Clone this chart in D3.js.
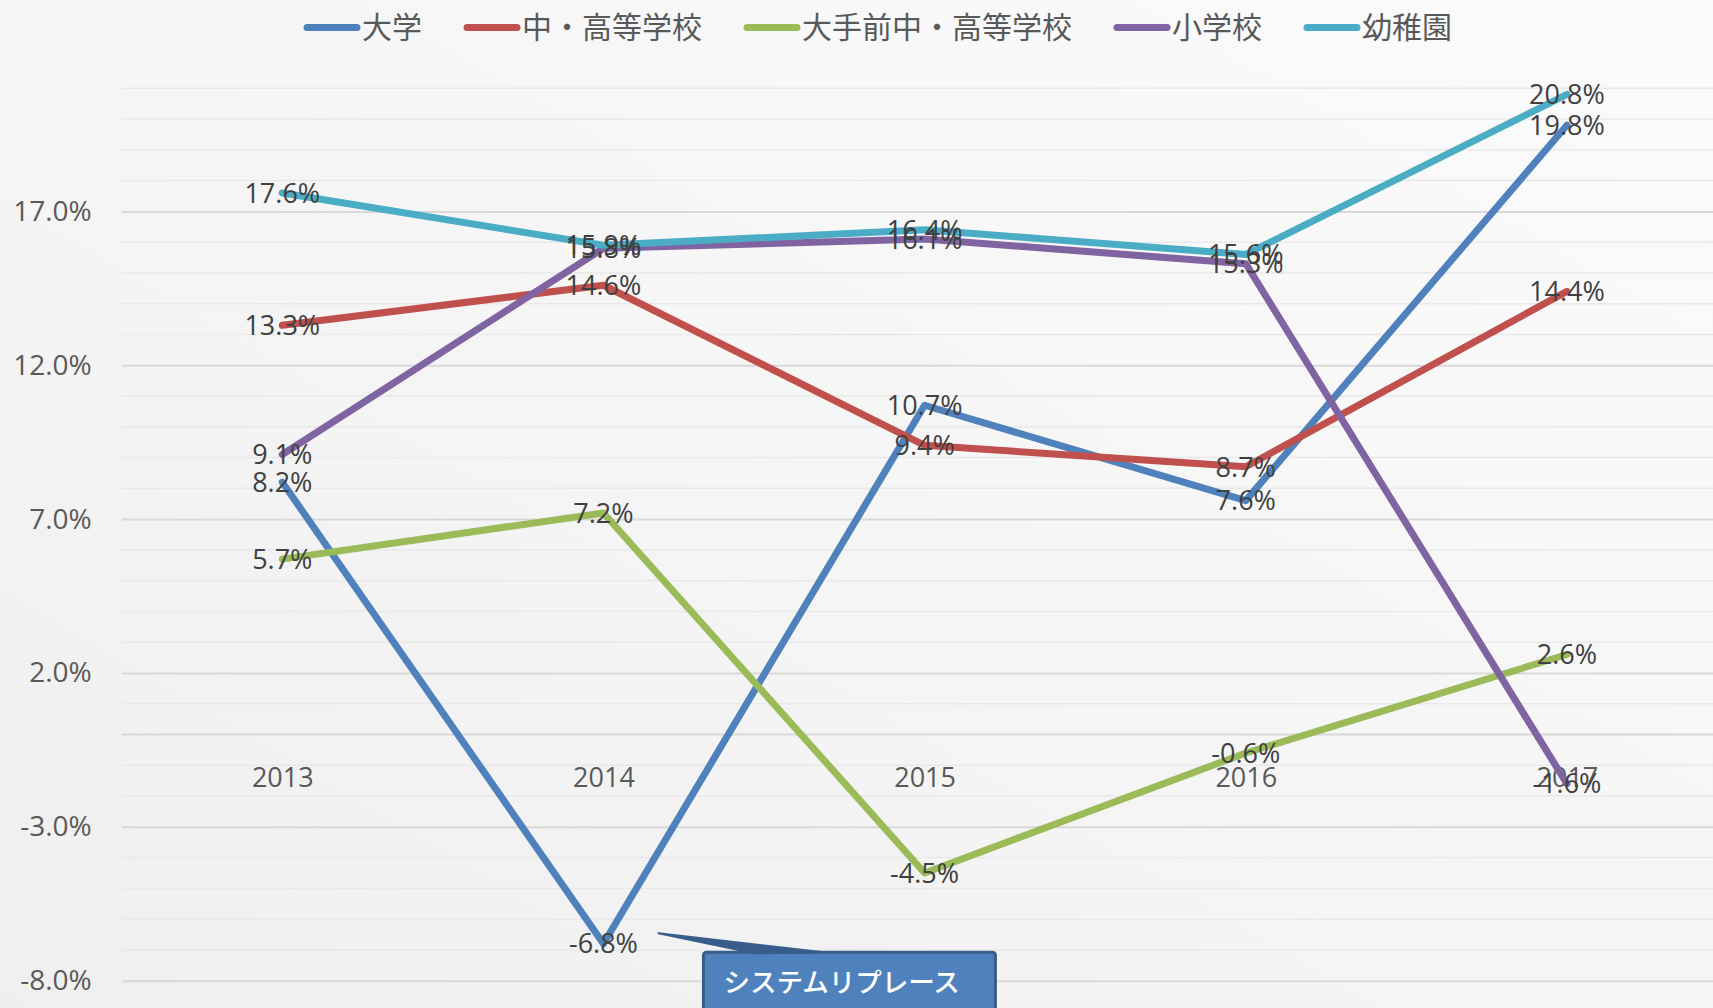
<!DOCTYPE html>
<html>
<head>
<meta charset="utf-8">
<script src="https://cdn.jsdelivr.net/npm/d3@7"></script>
<style>
  body { margin: 0; overflow: hidden; }
  svg { display: block; }
</style>
</head>
<body>
<div id="chart"></div>
<script>
// data
let years = ["2013", "2014", "2015", "2016", "2017"];
let seriesNames = ["大学", "中・高等学校", "大手前中・高等学校", "小学校", "幼稚園"];
let seriesColors = ["#4f81bd", "#c0504d", "#9bbb59", "#8064a2", "#4bacc6"];
let daigaku = [8.2, -6.8, 10.7, 7.6, 19.8];
let chuko = [13.3, 14.6, 9.4, 8.7, 14.4];
let otemae = [5.7, 7.2, -4.5, -0.6, 2.6];
let shogakko = [9.1, 15.8, 16.1, 15.3, -1.6];
let yochien = [17.6, 15.9, 16.4, 15.6, 20.8];
let yTicks = [-8, -3, 2, 7, 12, 17];
let yDomain = [-8, 21];
let calloutText = "システムリプレース";

let allSeries = [daigaku, chuko, otemae, shogakko, yochien];

function getConfig(){
    let width = 1713;
    let height = 1008;
    let margin = { top: 88.3, bottom: 27.3, left: 121.7, right: -14.5 };
    let bodyWidth = width - margin.left - margin.right;
    let bodyHeight = height - margin.top - margin.bottom;
    let svg = d3.select("#chart")
        .append("svg")
        .attr("width", width)
        .attr("height", height);
    return { width, height, margin, bodyWidth, bodyHeight, svg };
}

function getScales(config){
    let { margin, bodyWidth, bodyHeight } = config;
    let xScale = d3.scalePoint()
        .domain(years)
        .range([margin.left, margin.left + bodyWidth])
        .padding(0.5);
    let yScale = d3.scaleLinear()
        .domain(yDomain)
        .range([margin.top + bodyHeight, margin.top]);
    return { xScale, yScale };
}

function drawBackground(config){
    let { svg, width, height } = config;
    let grad = svg.append("defs").append("linearGradient")
        .attr("id", "bg")
        .attr("x1", "0").attr("y1", "1")
        .attr("x2", "1").attr("y2", "0");
    grad.append("stop").attr("offset", "0%").attr("stop-color", "#efefef");
    grad.append("stop").attr("offset", "55%").attr("stop-color", "#f6f6f6");
    grad.append("stop").attr("offset", "100%").attr("stop-color", "#fbfbfb");
    svg.append("rect")
        .attr("width", width)
        .attr("height", height)
        .attr("fill", "url(#bg)");
}

function drawAxes(config, scales){
    let { svg, margin, bodyWidth } = config;
    let { xScale, yScale } = scales;
    let right = margin.left + bodyWidth;

    // minor grid every 1%
    let minor = d3.range(yDomain[0], yDomain[1] + 1).filter(v => yTicks.indexOf(v) < 0);
    svg.append("g")
        .selectAll("line")
        .data(minor)
        .join("line")
        .attr("x1", margin.left).attr("x2", right)
        .attr("y1", d => yScale(d)).attr("y2", d => yScale(d))
        .attr("stroke", "#e9e9e9")
        .attr("stroke-width", 1.5);

    // major grid
    let grid = d3.axisLeft(yScale).tickValues(yTicks).tickSize(-bodyWidth).tickFormat("");
    svg.append("g")
        .attr("transform", "translate(" + margin.left + ",0)")
        .call(grid)
        .call(g => g.select(".domain").remove())
        .call(g => g.selectAll("line").attr("stroke", "#d9d9d9").attr("stroke-width", 2));

    // y labels
    let axisY = d3.axisLeft(yScale)
        .tickValues(yTicks)
        .tickSize(0)
        .tickPadding(30)
        .tickFormat(d => d.toFixed(1) + "%");
    svg.append("g")
        .attr("transform", "translate(" + margin.left + ",0)")
        .call(axisY)
        .call(g => g.select(".domain").remove())
        .call(g => g.selectAll("text")
            .attr("fill", "#595959")
            .style("font-family", "'Open Sans', sans-serif")
            .style("font-size", "28px"));

    // horizontal axis at zero
    let axisX = d3.axisBottom(xScale).tickSize(0).tickPadding(33);
    svg.append("g")
        .attr("transform", "translate(0," + yScale(0) + ")")
        .call(axisX)
        .call(g => g.select(".domain")
            .attr("d", "M" + margin.left + ",0H" + right)
            .attr("stroke", "#d9d9d9")
            .attr("stroke-width", 2))
        .call(g => g.selectAll("text")
            .attr("fill", "#595959")
            .style("font-family", "'Open Sans', sans-serif")
            .style("font-size", "27px"));
}

function drawLines(config, scales){
    let { svg } = config;
    let { xScale, yScale } = scales;
    let line = d3.line()
        .x((d, i) => xScale(years[i]))
        .y(d => yScale(d));

    svg.append("g")
        .selectAll("path")
        .data(allSeries)
        .join("path")
        .attr("d", d => line(d))
        .attr("fill", "none")
        .attr("stroke", (d, i) => seriesColors[i])
        .attr("stroke-width", 7)
        .attr("stroke-linecap", "round")
        .attr("stroke-linejoin", "round");

    let labels = svg.append("g");
    allSeries.forEach(values => {
        labels.selectAll(null)
            .data(values)
            .join("text")
            .attr("x", (d, i) => xScale(years[i]))
            .attr("y", d => yScale(d))
            .attr("dy", "0.36em")
            .attr("text-anchor", "middle")
            .attr("fill", "#404040")
            .style("font-family", "'Open Sans', sans-serif")
            .style("font-size", "27px")
            .text(d => d.toFixed(1) + "%");
    });
}

function drawLegend(config){
    let { svg } = config;
    let legend = svg.append("g");
    let x = 304, y = 27.5;
    seriesNames.forEach((name, i) => {
        legend.append("line")
            .attr("x1", x + 3).attr("x2", x + 53)
            .attr("y1", y).attr("y2", y)
            .attr("stroke", seriesColors[i])
            .attr("stroke-width", 7)
            .attr("stroke-linecap", "round");
        let t = legend.append("text")
            .attr("x", x + 58)
            .attr("y", y)
            .attr("dy", "0.36em")
            .attr("fill", "#595959")
            .style("font-family", "'Noto Sans CJK JP', sans-serif")
            .style("font-size", "30px")
            .text(name);
        x += 58 + t.node().getComputedTextLength() + 42;
    });
}

function drawCallout(config, scales){
    let { svg } = config;
    let { xScale, yScale } = scales;
    // anchored to the 2014 大学 point
    let px = xScale(years[1]);
    let py = yScale(daigaku[1]);
    let tip = [px + 55, py - 10.5];
    let boxX = px + 100, boxY = py + 8.5;
    let g = svg.append("g");
    g.append("rect")
        .attr("x", boxX).attr("y", boxY)
        .attr("width", 292).attr("height", 80)
        .attr("rx", 3)
        .attr("fill", "#4f81bd")
        .attr("stroke", "#385d8a")
        .attr("stroke-width", 3);
    g.append("path")
        .attr("d", "M" + tip + "L" + [boxX + 120, boxY] + "L" + [boxX + 51, boxY + 1] + "Z")
        .attr("fill", "#385d8a")
        .attr("stroke", "#385d8a")
        .attr("stroke-width", 2)
        .attr("stroke-linejoin", "round");
    g.append("text")
        .attr("x", boxX + 20)
        .attr("y", boxY + 40)
        .attr("fill", "#ffffff")
        .style("font-family", "'Noto Sans CJK JP', sans-serif")
        .style("font-size", "26.5px")
        .style("font-weight", 500)
        .text(calloutText);
}

let config = getConfig();
let scales = getScales(config);
drawBackground(config);
drawAxes(config, scales);
drawLines(config, scales);
drawLegend(config);
drawCallout(config, scales);
</script>
</body>
</html>
